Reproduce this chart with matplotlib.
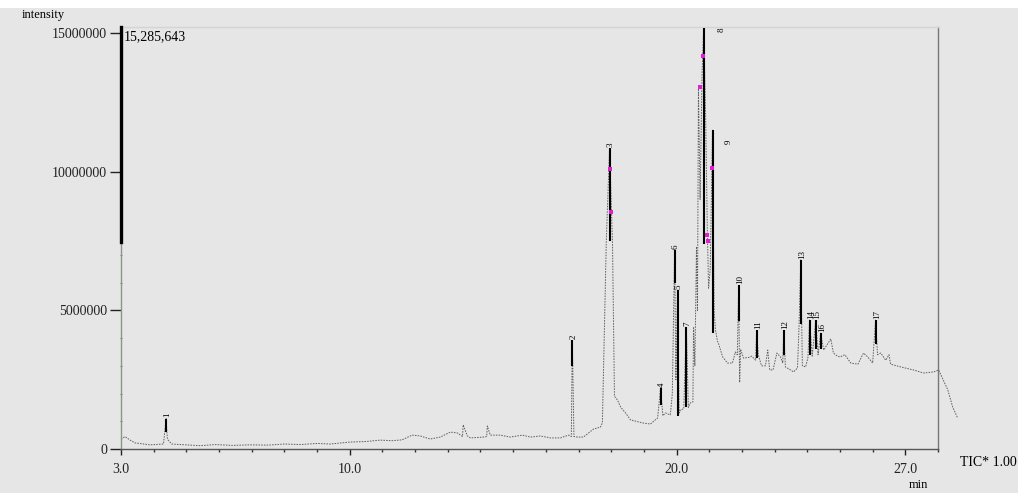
import matplotlib
matplotlib.use('Agg')
import matplotlib.pyplot as plt
from matplotlib.ticker import MultipleLocator

plt.rcParams['font.family'] = ['Liberation Serif', 'DejaVu Serif']

# 色谱图 TIC 轨迹 (时间 min, 强度 单位 1e6)
trace_t = [3.00, 3.12, 3.28, 3.43, 3.89, 4.30, 4.38, 4.42, 4.55, 5.00, 5.42, 5.90, 6.40, 6.95,
           7.50, 8.00, 8.48, 9.00, 9.40, 10.01, 10.50, 10.93, 11.30, 11.60, 11.91, 12.16, 12.46,
           12.77, 13.08, 13.29, 13.45, 13.47, 13.60, 13.69, 14.09, 14.19, 14.21, 14.30, 14.61,
           14.91, 15.28, 15.53, 15.83, 16.14, 16.45, 16.69, 16.78, 16.81, 16.86, 16.97, 17.15,
           17.46, 17.67, 17.73, 17.85, 17.95, 18.04, 18.10, 18.19, 18.29, 18.44, 18.59, 18.96,
           19.20, 19.42, 19.51, 19.58, 19.66, 19.81, 19.87, 19.94, 19.98, 20.03, 20.08, 20.12,
           20.22, 20.30, 20.36, 20.42, 20.50, 20.52, 20.56, 20.61, 20.64, 20.67, 20.72, 20.78,
           20.83, 20.89, 20.94, 20.98, 21.03, 21.10, 21.15, 21.19, 21.25, 21.28, 21.41, 21.56,
           21.71, 21.80, 21.86, 21.90, 21.93, 21.96, 22.05, 22.20, 22.30, 22.42, 22.45, 22.50,
           22.60, 22.72, 22.79, 22.85, 22.95, 23.07, 23.18, 23.25, 23.28, 23.33, 23.49, 23.58,
           23.70, 23.75, 23.80, 23.85, 23.95, 24.02, 24.07, 24.15, 24.26, 24.33, 24.41, 24.50,
           24.72, 24.80, 24.92, 25.00, 25.15, 25.33, 25.55, 25.72, 25.85, 26.00, 26.09, 26.15,
           26.25, 26.40, 26.50, 26.55, 26.86, 27.25, 27.56, 27.87, 28.02, 28.30, 28.45, 28.60]
trace_i = [0.35, 0.45, 0.32, 0.22, 0.15, 0.18, 1.10, 0.35, 0.18, 0.15, 0.12, 0.16, 0.13, 0.15,
           0.14, 0.18, 0.16, 0.20, 0.18, 0.25, 0.27, 0.32, 0.30, 0.33, 0.50, 0.47, 0.36,
           0.43, 0.61, 0.58, 0.45, 0.87, 0.47, 0.40, 0.43, 0.45, 0.83, 0.50, 0.50,
           0.43, 0.50, 0.43, 0.47, 0.40, 0.40, 0.50, 0.45, 3.93, 0.45, 0.43, 0.43,
           0.72, 0.79, 0.94, 7.50, 10.85, 7.40, 1.90, 1.77, 1.51, 1.30, 1.05, 0.94,
           0.90, 1.12, 2.20, 1.20, 1.30, 1.23, 2.00, 7.18, 2.50, 5.73, 1.30, 1.41,
           1.45, 4.40, 1.50, 1.66, 1.70, 4.40, 3.00, 7.30, 5.00, 13.00, 9.00, 13.50,
           15.20, 12.00, 8.00, 5.80, 6.50, 11.50, 5.00, 4.30, 3.90, 3.82, 3.32, 3.10,
           3.10, 3.50, 3.40, 5.91, 2.40, 3.60, 3.28, 3.30, 3.35, 3.20, 4.29, 3.40,
           3.00, 3.00, 3.57, 2.85, 2.85, 3.46, 3.32, 3.10, 4.29, 2.96, 2.85, 2.78,
           2.92, 4.50, 6.82, 3.00, 2.96, 3.30, 4.65, 3.35, 4.65, 3.40, 4.18, 3.57,
           3.97, 3.46, 3.35, 3.32, 3.40, 3.10, 3.06, 3.46, 3.32, 3.10, 4.65, 3.40,
           3.46, 3.20, 3.40, 3.06, 2.96, 2.85, 2.74, 2.78, 2.85, 2.13, 1.51, 1.12]

# 标注峰: 编号, 保留时间, 峰顶, 深色线段下端
peak_label = ['1', '2', '3', '4', '5', '6', '7', '8', '9', '10', '11', '12', '13', '14', '15', '16', '17']
peak_t = [4.38, 16.81, 17.95, 19.51, 20.03, 19.94, 20.30, 20.83, 21.10, 21.90, 22.45, 23.28, 23.80,
          24.07, 24.26, 24.41, 26.09]
peak_top = [1.10, 3.93, 10.85, 2.20, 5.73, 7.18, 4.40, 15.20, 11.50, 5.91, 4.29, 4.29, 6.82,
            4.65, 4.65, 4.18, 4.65]
peak_low = [0.60, 3.00, 7.50, 1.60, 1.20, 6.00, 1.50, 7.40, 4.20, 4.60, 3.30, 3.40, 4.50,
            3.40, 3.60, 3.60, 3.80]

# 积分标记点
mark_t = [17.95, 17.98, 20.80, 20.73, 20.92, 20.95, 21.07]
mark_i = [10.10, 8.55, 14.17, 13.05, 7.72, 7.50, 10.13]

y_ticks = [0, 5000000, 10000000, 15000000]
x_ticks = [3.0, 10.0, 20.0, 27.0]
max_intensity = '15,285,643'

bg = '#e6e6e6'
fig = plt.figure(figsize=(10.18, 4.93), dpi=100, facecolor=bg)
fig.patches.append(plt.Rectangle((0, 1 - 8 / 493), 1, 8 / 493, transform=fig.transFigure,
                                 facecolor='white', edgecolor='none'))
ax = fig.add_axes([121 / 1018, 1 - 449 / 493, (938 - 121) / 1018, (449 - 27) / 493])
ax.set_facecolor(bg)

M = 1e6
ax.plot(trace_t, [v * M for v in trace_i], color='#606060', lw=0.7, ls=(0, (1.6, 1.2)),
        clip_on=False, zorder=2)
ax.vlines(peak_t, [v * M for v in peak_low], [v * M for v in peak_top], color='black',
          lw=1.5, zorder=3)
ax.scatter(mark_t, [v * M for v in mark_i], s=5, marker='s', color='#e020d0', zorder=4,
           linewidths=0)

# 峰编号 (竖排)
offs = {'8': (13, -1.5), '9': (12, -8.5)}
for lab, t, top in zip(peak_label, peak_t, peak_top):
    dx, dy = offs.get(lab, (1, 1))
    ax.annotate(lab, (t, top * M), xytext=(dx, dy), textcoords='offset points',
                rotation=90, ha='center', va='center' if lab in offs else 'bottom',
                fontsize=6.5, annotation_clip=False)

ax.set_xlim(3.0, 28.0)
ax.set_ylim(0, 15.22 * M)
ax.set_xticks(x_ticks)
ax.set_xticklabels(['%.1f' % v for v in x_ticks])
ax.xaxis.set_minor_locator(MultipleLocator(1))
ax.set_yticks(y_ticks)
ax.set_yticklabels([str(v) for v in y_ticks])
ax.yaxis.set_minor_locator(MultipleLocator(1 * M))
ax.tick_params(axis='x', which='major', length=4, width=1, direction='out', pad=6,
               labelsize=10, colors='#222222')
ax.tick_params(axis='x', which='minor', length=2, width=1, direction='out', colors='#333333')
ax.tick_params(axis='y', which='major', length=8, width=1, direction='out', pad=2,
               labelsize=10, colors='#222222')
ax.tick_params(axis='y', which='minor', length=2, width=0.8, direction='inout',
               colors='#777777')

ax.spines['left'].set_color('#8a968a')
ax.spines['bottom'].set_color('#555555')
ax.spines['right'].set_color('#777777')
ax.spines['top'].set_color('#d4d4d4')
for s in ax.spines.values():
    s.set_linewidth(1.0)

# 纵轴上部的粗黑线
ax.plot([3.0, 3.0], [7.46 * M, 15.22 * M], color='black', lw=2.4, clip_on=False, zorder=5)

fig.text(22 / 1018, 1 - 15 / 493, 'intensity', fontsize=9, ha='left', va='center')
fig.text(124 / 1018, 1 - 37 / 493, max_intensity, fontsize=10, ha='left', va='center')
fig.text(918 / 1018, 1 - 485 / 493, 'min', fontsize=9, ha='center', va='center')
fig.text(960 / 1018, 1 - 462 / 493, 'TIC* 1.00', fontsize=10, ha='left', va='center')

fig.savefig('out.png', dpi=100, facecolor=bg)
